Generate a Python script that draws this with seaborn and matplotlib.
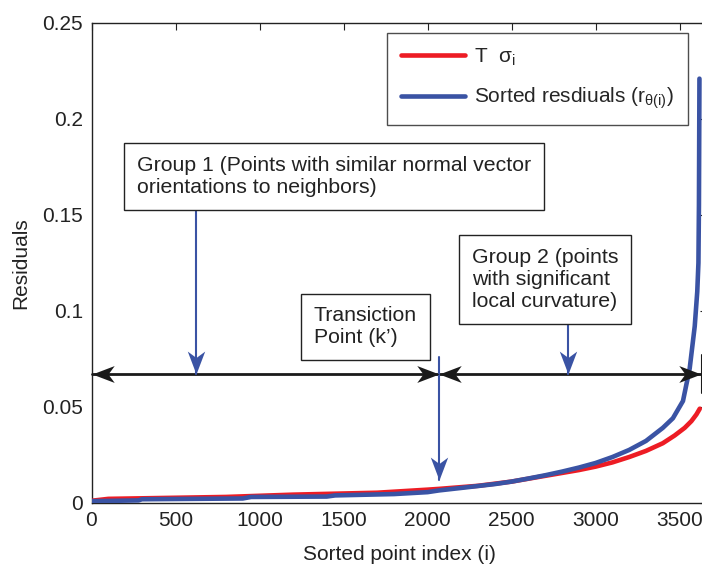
import numpy as np
import pandas as pd
import matplotlib
matplotlib.use("Agg")
import matplotlib.pyplot as plt
from matplotlib.path import Path
import seaborn as sns

# ---------------- data ----------------
blue_idx = [0, 280, 300, 900, 950, 1400, 1450, 1800, 2000, 2068, 2200, 2400, 2500,
            2600, 2700, 2800, 2900, 3000, 3100, 3200, 3300, 3400, 3460, 3520,
            3560, 3590, 3605, 3612, 3615, 3618]
blue_val = [0.0008, 0.0012, 0.0018, 0.0022, 0.0030, 0.0032, 0.0038, 0.0045, 0.0055,
            0.0064, 0.0077, 0.0097, 0.0110, 0.0126, 0.0143, 0.0162, 0.0183, 0.0207,
            0.0238, 0.0275, 0.0322, 0.0390, 0.0440, 0.0530, 0.0700, 0.0920, 0.1100,
            0.1250, 0.1550, 0.2210]

red_idx = [0, 100, 800, 1200, 1700, 2000, 2068, 2300, 2500, 2700, 2900, 3000, 3100,
           3200, 3300, 3400, 3470, 3530, 3570, 3600, 3620]
red_val = [0.0010, 0.0020, 0.0030, 0.0042, 0.0052, 0.0068, 0.0072, 0.0088, 0.0110,
           0.0140, 0.0170, 0.0188, 0.0210, 0.0238, 0.0270, 0.0310, 0.0350, 0.0390,
           0.0425, 0.0460, 0.0490]

red_label = r'T  $\sigma_{i}$'
blue_label = r'Sorted resdiuals ($r_{\theta(i)}$)'

x_ticks = [0, 500, 1000, 1500, 2000, 2500, 3000, 3500]
y_ticks = [0, 0.05, 0.1, 0.15, 0.2, 0.25]
y_tick_labels = ['0', '0.05', '0.1', '0.15', '0.2', '0.25']

transition_k = 2068
group1_x = 622
group2_x = 2836
arrow_y = 0.067
right_end = 3628

# ---------------- style ----------------
sns.set_style("white")
plt.rcParams['font.family'] = ['Liberation Sans', 'DejaVu Sans']
plt.rcParams['mathtext.fontset'] = 'custom'
plt.rcParams['mathtext.rm'] = 'Liberation Sans'
plt.rcParams['mathtext.it'] = 'Liberation Sans'
plt.rcParams['mathtext.bf'] = 'Liberation Sans:bold'
plt.rcParams['mathtext.default'] = 'regular'

RED = '#ED1C24'
BLUE = '#3A53A4'
FS = 15
AFS = 15.3

fig = plt.figure(figsize=(7.02, 5.67), dpi=100)
ax = fig.add_axes([91.5 / 702, 64.3 / 567, 615.0 / 702, 479.7 / 567])

df_red = pd.DataFrame({'idx': red_idx, 'val': red_val})
df_blue = pd.DataFrame({'idx': blue_idx, 'val': blue_val})
sns.lineplot(data=df_red, x='idx', y='val', color=RED, lw=3.3, ax=ax,
             label=red_label, sort=False, zorder=3)
sns.lineplot(data=df_blue, x='idx', y='val', color=BLUE, lw=3.3, ax=ax,
             label=blue_label, sort=False, zorder=4)

ax.set_xlim(0, 3660)
ax.set_ylim(0, 0.25)
ax.set_xticks(x_ticks)
ax.set_xticklabels([str(t) for t in x_ticks])
ax.set_yticks(y_ticks)
ax.set_yticklabels(y_tick_labels)
ax.tick_params(direction='in', length=5, width=0.8, top=True, right=True,
               labelsize=FS, colors='#222222', pad=6)
for s in ax.spines.values():
    s.set_color('#222222')
    s.set_linewidth(1.0)
ax.set_xlabel('Sorted point index (i)', fontsize=FS, color='#222222', labelpad=11)
ax.set_ylabel('Residuals', fontsize=FS, color='#222222', labelpad=9)

leg = ax.legend(loc='upper right', bbox_to_anchor=(0.970, 0.979), borderaxespad=0,
                fontsize=FS, frameon=True, fancybox=False, edgecolor='#222222',
                handlelength=3.1, handletextpad=0.45, labelspacing=0.85,
                borderpad=0.65)
leg.get_frame().set_linewidth(1.0)
for line in leg.get_lines():
    line.set_linewidth(3.3)


# ---------------- annotations ----------------
def head(angle):
    v = np.array([(0, 0), (-1, 0.38), (-0.72, 0), (-1, -0.38), (0, 0)], float)
    th = np.deg2rad(angle)
    R = np.array([[np.cos(th), -np.sin(th)], [np.sin(th), np.cos(th)]])
    v = v @ R.T
    return Path(v, [Path.MOVETO, Path.LINETO, Path.LINETO, Path.LINETO, Path.CLOSEPOLY])


def arrow_head(x, y, angle, color, ms=32):
    ax.plot([x], [y], marker=head(angle), ms=ms, color=color, mew=0,
            linestyle='none', zorder=6, clip_on=False)


# black double arrows
ax.plot([0, right_end], [arrow_y, arrow_y], color='#1a1a1a', lw=2.0, zorder=5,
        clip_on=False)
arrow_head(0, arrow_y, 180, '#1a1a1a')
arrow_head(transition_k, arrow_y, 0, '#1a1a1a')
arrow_head(transition_k, arrow_y, 180, '#1a1a1a')
arrow_head(right_end, arrow_y, 0, '#1a1a1a')
ax.plot([3634, 3634], [0.057, 0.077], color='#1a1a1a', lw=1.5, zorder=5, clip_on=False)

# blue annotation arrows
def blue_arrow(x, y0, y1):
    ax.plot([x, x], [y0, y1], color=BLUE, lw=1.5, zorder=5)
    arrow_head(x, y1, -90, BLUE, ms=33)

blue_arrow(group1_x, 0.1545, arrow_y)
blue_arrow(transition_k, 0.0759, 0.0118)
blue_arrow(group2_x, 0.094, arrow_y)

box = dict(boxstyle='square,pad=0.6', facecolor='white', edgecolor='#222222', lw=1.0)
ax.text(271, 0.170, 'Group 1 (Points with similar normal vector\norientations to neighbors)',
        fontsize=AFS, ha='left', va='center', color='#222222', bbox=box, zorder=7,
        linespacing=1.2)
ax.text(1324, 0.0916, 'Transiction\nPoint (k\u2019)',
        fontsize=AFS, ha='left', va='center', color='#222222', bbox=box, zorder=7,
        linespacing=1.2)
ax.text(2265, 0.1163, 'Group 2 (points\nwith significant\nlocal curvature)',
        fontsize=AFS, ha='left', va='center', color='#222222', bbox=box, zorder=7,
        linespacing=1.2)

fig.savefig('out.png', dpi=100)
